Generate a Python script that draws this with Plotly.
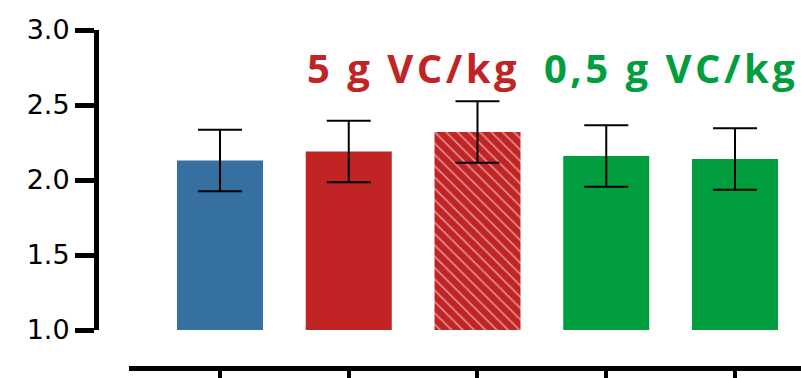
import plotly.graph_objects as go

# Group means and standard errors
groups = ["A", "B", "C", "D", "E"]
means = [2.13, 2.19, 2.32, 2.16, 2.14]
errors = [0.205, 0.205, 0.205, 0.205, 0.205]
bar_colors = ["#3670a0", "#c02424", "#c02424", "#009e3e", "#009e3e"]
hatched = [False, False, True, False, False]

y_ticks = [1.0, 1.5, 2.0, 2.5, 3.0]
y_tick_labels = ["1.0", "1.5", "2.0", "2.5", "3.0"]
baseline = 1.0

dose_labels = ["5 g VC/kg", "0,5 g VC/kg"]
dose_colors = ["#c02424", "#009e3e"]
dose_positions = [1.5, 3.5]
dose_y = 2.75

x_pos = list(range(len(groups)))

fig = go.Figure()
fig.add_trace(go.Bar(
    x=x_pos,
    y=[m - baseline for m in means],
    base=baseline,
    width=0.668,
    marker=dict(
        color=bar_colors,
        line=dict(width=0),
        pattern=dict(
            shape=["\\" if h else "" for h in hatched],
            fgcolor="white",
            fillmode="overlay",
            size=8,
            solidity=0.2,
        ),
    ),
    error_y=dict(type="data", array=errors, visible=True,
                 color="black", thickness=2, width=22),
    hoverinfo="skip",
))

for text, color, xp in zip(dose_labels, dose_colors, dose_positions):
    fig.add_annotation(
        x=xp, y=dose_y, xref="x", yref="y",
        text=f'<span style="letter-spacing:3.5px">{text}</span>',
        showarrow=False, xanchor="center", yanchor="middle",
        font=dict(family="Open Sans", size=40, color=color, weight=700),
    )

fig.update_layout(
    width=801, height=378,
    margin=dict(l=96, r=0, t=30, b=10),
    plot_bgcolor="white", paper_bgcolor="white",
    showlegend=False,
    xaxis=dict(
        domain=[0.0468, 1.0],
        range=[-0.7068, 4.5126],
        anchor="free", position=0,
        automargin=False,
        tickvals=x_pos, ticktext=["" for _ in x_pos],
        ticks="outside", ticklen=14, tickwidth=4, tickcolor="black",
        showline=True, linewidth=5, linecolor="black",
        showgrid=False, zeroline=False,
    ),
    yaxis=dict(
        domain=[0.1124, 1.0],
        range=[1.0, 3.0],
        anchor="free", position=0,
        automargin=False,
        tickvals=y_ticks, ticktext=y_tick_labels,
        ticks="outside", ticklen=19, tickwidth=5, tickcolor="black",
        showline=True, linewidth=5, linecolor="black",
        showgrid=False, zeroline=False,
        tickfont=dict(family="DejaVu Sans", size=27, color="black"),
    ),
)

fig.write_html("out.html")
